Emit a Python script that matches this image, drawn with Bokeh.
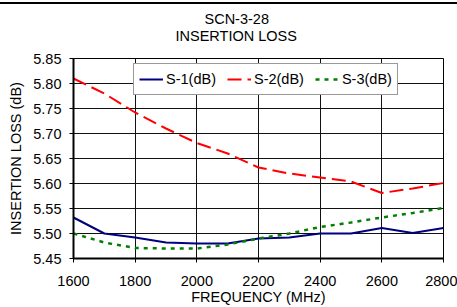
from bokeh.plotting import figure
from bokeh.layouts import column
from bokeh.models import Range1d, FixedTicker, PrintfTickFormatter, Legend, LegendItem, Title, Div
from bokeh.embed import file_html
from bokeh.resources import INLINE

freq = [1600, 1700, 1800, 1900, 2000, 2100, 2200, 2300, 2400, 2500, 2600, 2700, 2800]
s1 = [5.532, 5.500, 5.492, 5.482, 5.480, 5.480, 5.490, 5.492, 5.500, 5.500, 5.511, 5.501, 5.511]
s2 = [5.810, 5.780, 5.742, 5.710, 5.681, 5.660, 5.632, 5.620, 5.612, 5.604, 5.581, 5.590, 5.601]
s3 = [5.500, 5.482, 5.471, 5.470, 5.470, 5.478, 5.490, 5.500, 5.513, 5.522, 5.532, 5.541, 5.551]
series_names = ["S-1(dB)", "S-2(dB)", "S-3(dB)"]
x_ticks = [1600, 1800, 2000, 2200, 2400, 2600, 2800]
y_ticks = [5.45, 5.50, 5.55, 5.60, 5.65, 5.70, 5.75, 5.80, 5.85]
title_lines = ["SCN-3-28", "INSERTION LOSS"]
x_label = "FREQUENCY (MHz)"
y_label = "INSERTION LOSS (dB)"

FONT = "Liberation Sans"
FS = "14.5px"

p = figure(width=457, height=303, output_backend="svg", toolbar_location=None,
           x_range=Range1d(1600, 2800), y_range=Range1d(5.45, 5.85),
           min_border_left=73, min_border_right=14, min_border_top=54, min_border_bottom=47)
p.background_fill_color = "white"
p.border_fill_color = "white"
p.outline_line_color = "black"
p.outline_line_width = 1

for ax in (p.xaxis[0], p.yaxis[0]):
    ax.axis_line_color = "black"
    ax.axis_line_width = 2
    ax.major_tick_out = 4
    ax.major_tick_in = 0
    ax.minor_tick_out = 0
    ax.minor_tick_in = 0
    ax.major_tick_line_color = "black"
    ax.major_label_text_font = FONT
    ax.major_label_text_font_size = FS
    ax.major_label_text_color = "black"
    ax.axis_label_text_font = FONT
    ax.axis_label_text_font_size = FS
    ax.axis_label_text_font_style = "normal"
    ax.axis_label_text_color = "black"

p.xaxis.ticker = FixedTicker(ticks=x_ticks)
p.yaxis.ticker = FixedTicker(ticks=y_ticks)
p.yaxis.formatter = PrintfTickFormatter(format="%.2f")
p.xaxis.axis_label = x_label
p.yaxis.axis_label = y_label
p.xaxis.major_label_standoff = 13
p.xaxis.axis_label_standoff = 0
p.yaxis.major_label_standoff = 8
p.yaxis.axis_label_standoff = 6

p.xgrid.grid_line_color = "#111111"
p.ygrid.grid_line_color = "#111111"
p.xgrid.grid_line_width = 1
p.ygrid.grid_line_width = 1

r1 = p.line(freq, s1, line_color="#000080", line_width=2)
r2 = p.line(freq, s2, line_color="#FF0000", line_width=2, line_dash="14 6")
r3 = p.line(freq, s3, line_color="#008000", line_width=2.5, line_dash="4 5")

legend = Legend(items=[LegendItem(label=series_names[0], renderers=[r1]),
                       LegendItem(label=series_names[1], renderers=[r2]),
                       LegendItem(label=series_names[2], renderers=[r3])],
                orientation="horizontal", location=(60, 163))
legend.label_text_font = FONT
legend.label_text_font_size = FS
legend.label_text_color = "black"
legend.padding = 5
legend.spacing = 11
legend.margin = 0
legend.glyph_width = 24
legend.glyph_height = 20
legend.label_height = 20
legend.label_standoff = 3
legend.border_line_color = "#333333"
legend.border_line_width = 1
legend.background_fill_color = "white"
legend.background_fill_alpha = 1
p.add_layout(legend, "center")

spacer = Title(text=" ", align="left", text_font=FONT, text_font_size=FS, standoff=2)
t2 = Title(text=title_lines[1], align="left", offset=102, text_font=FONT, text_font_size=FS,
           text_font_style="normal", text_color="black", standoff=-10)
t1 = Title(text=title_lines[0], align="left", offset=131, text_font=FONT, text_font_size=FS,
           text_font_style="normal", text_color="black", standoff=8)
p.add_layout(spacer, "above")
p.add_layout(t2, "above")
p.add_layout(t1, "above")

bar = Div(text="", width=457, height=2, margin=(2, 0, 0, 0), styles={"background-color": "#000000"})
layout = column(bar, p, spacing=0)

open("out.html", "w").write(file_html(layout, INLINE))
